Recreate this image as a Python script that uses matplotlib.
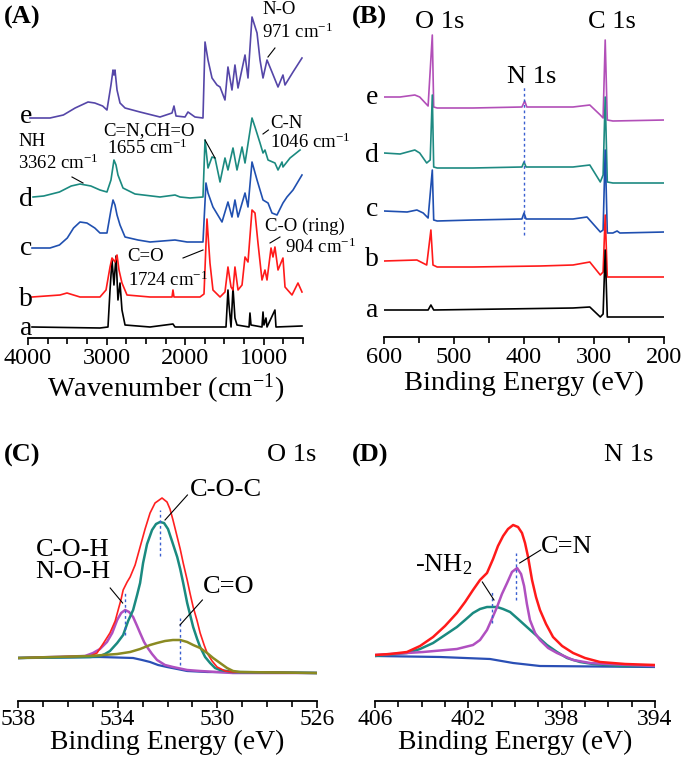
import numpy as np
import matplotlib
matplotlib.use("Agg")
from matplotlib import pyplot as plt
from matplotlib.ticker import MultipleLocator

plt.rcParams['font.family'] = ['Liberation Serif', 'DejaVu Serif']
plt.rcParams['mathtext.default'] = 'regular'

# ---------- (A) FTIR, wavenumber vs intensity (offset traces a..e) ----------
ftir_labels = ['a', 'b', 'c', 'd', 'e']
ftir_colors = ['#000000', '#ff1a1a', '#2050b0', '#1b8a80', '#5546a8']

ftir_a_wn = [3949, 3084, 2982, 2956, 2931, 2906, 2880, 2855, 2829, 2804, 2765, 2447, 2155, 2129,
             1811, 1480, 1455, 1442, 1416, 1391, 1366, 1340, 1187, 1175, 1162, 1022, 1009, 997,
             971, 958, 857, 844, 513]
ftir_a_int = [11, 10, 11, 48, 78, 53, 82, 38, 55, 28, 13, 11, 14, 11,
              11, 11, 48, 33, 11, 50, 20, 13, 11, 25, 13, 11, 26, 13,
              20, 11, 28, 11, 12]

ftir_b_wn = [3949, 3593, 3504, 3338, 3084, 3007, 2956, 2931, 2893, 2867, 2842, 2804, 2740, 2447,
             2167, 2155, 2142, 1811, 1760, 1722, 1684, 1646, 1556, 1493, 1455, 1416, 1391, 1366,
             1327, 1276, 1238, 1200, 1149, 1111, 1073, 1022, 984, 958, 907, 882, 857, 818,
             755, 729, 640, 564, 513]
ftir_b_int = [41, 43, 45, 41, 41, 48, 71, 80, 76, 83, 68, 55, 43, 41,
              41, 48, 41, 41, 44, 119, 75, 48, 41, 46, 71, 51, 48, 71,
              48, 53, 81, 76, 128, 125, 95, 58, 68, 58, 90, 81, 91, 68,
              80, 51, 43, 55, 46]

ftir_c_wn = [3949, 3720, 3600, 3500, 3420, 3338, 3250, 3150, 3084, 2995, 2944, 2918, 2893, 2867,
             2829, 2765, 2600, 2447, 2129, 1976, 1773, 1735, 1709, 1646, 1531, 1455, 1404, 1366,
             1327, 1238, 1200, 1149, 1085, 1009, 945, 895, 831, 755, 704, 627, 513]
ftir_c_int = [90, 90, 93, 100, 110, 116, 115, 110, 105, 105, 128, 138, 133, 123,
              113, 101, 98, 96, 98, 96, 96, 155, 145, 131, 116, 136, 121, 138,
              121, 145, 131, 176, 158, 138, 135, 125, 123, 135, 141, 148, 163]

ftir_d_wn = [3936, 3800, 3600, 3450, 3338, 3200, 3084, 2995, 2944, 2906, 2880, 2855, 2791, 2638,
             2320, 2129, 2065, 1938, 1773, 1747, 1709, 1658, 1620, 1556, 1493, 1455, 1391, 1340,
             1276, 1238, 1149, 1111, 1047, 1009, 984, 945, 857, 818, 767, 755, 665, 538]
ftir_d_int = [141, 142, 146, 152, 154, 152, 148, 146, 158, 178, 173, 163, 150, 144,
              141, 143, 141, 140, 141, 198, 170, 181, 180, 156, 180, 168, 190, 168,
              191, 175, 220, 211, 195, 185, 188, 178, 175, 168, 176, 171, 180, 188]

ftir_e_wn = [3975, 3720, 3550, 3400, 3236, 3150, 3050, 2995, 2944, 2918, 2906, 2893, 2867, 2829,
             2765, 2575, 2320, 2167, 2142, 2116, 2002, 1964, 1875, 1773, 1747, 1709, 1658, 1595,
             1556, 1493, 1455, 1404, 1366, 1327, 1238, 1200, 1149, 1085, 1047, 1009, 958, 895,
             818, 755, 729, 627, 513]
ftir_e_int = [220, 220, 223, 230, 236, 235, 232, 228, 253, 268, 263, 268, 248, 235,
              230, 226, 221, 225, 232, 222, 221, 226, 221, 220, 296, 278, 260, 253,
              251, 238, 271, 248, 273, 250, 283, 260, 321, 305, 278, 260, 278, 266,
              251, 263, 253, 266, 280]

ftir_wn = [ftir_a_wn, ftir_b_wn, ftir_c_wn, ftir_d_wn, ftir_e_wn]
ftir_int = [ftir_a_int, ftir_b_int, ftir_c_int, ftir_d_int, ftir_e_int]
ftir_label_y = [3, 32, 83, 132, 215]

# ---------- (B) XPS survey ----------
xps_labels = ['a', 'b', 'c', 'd', 'e']
xps_colors = ['#000000', '#ff1a1a', '#1f4fb0', '#1e8a82', '#b24fb8']

xps_a_be = [600, 537, 533, 529, 330, 306, 291, 287, 284, 281, 199]
xps_a_int = [27, 27, 32, 27, 29, 30, 20, 23, 87, 20, 20]

xps_b_be = [600, 553, 539, 533, 530, 524, 473, 377, 330, 306, 291, 287, 284, 281, 199]
xps_b_int = [76, 77, 72, 107, 72, 70, 70, 71, 72, 75, 62, 65, 122, 60, 60]

xps_c_be = [600, 567, 553, 544, 537, 531, 529, 524, 473, 403, 400, 397, 330, 310, 291, 287,
            284, 281, 273, 267, 263, 199]
xps_c_int = [126, 125, 127, 124, 119, 167, 117, 116, 117, 118, 124, 118, 118, 120, 105, 107,
             187, 104, 104, 106, 104, 105]

xps_d_be = [600, 577, 556, 549, 539, 534, 531, 529, 524, 473, 403, 400, 397, 330, 306, 291,
            287, 284, 281, 273, 199]
xps_d_int = [184, 183, 187, 184, 174, 177, 242, 170, 169, 169, 170, 175, 170, 170, 172, 155,
             162, 240, 155, 154, 154]

xps_e_be = [600, 577, 556, 549, 537, 531, 529, 524, 473, 403, 399, 396, 330, 306, 291, 287,
            284, 281, 273, 199]
xps_e_int = [240, 240, 242, 240, 231, 302, 230, 229, 229, 230, 236, 230, 230, 232, 222, 219,
             297, 217, 216, 217]

xps_be = [xps_a_be, xps_b_be, xps_c_be, xps_d_be, xps_e_be]
xps_int = [xps_a_int, xps_b_int, xps_c_int, xps_d_int, xps_e_int]
xps_label_y = [20, 71, 121, 175, 233]

# ---------- (C) O 1s fit ----------
o1s_env_be = [538.0, 535.1, 534.83, 534.59, 534.31, 534.10, 533.98, 533.86, 533.78, 533.62, 533.50,
              533.30, 533.10, 532.90, 532.70, 532.50, 532.22, 532.02, 531.90, 531.78, 531.61,
              531.49, 531.37, 531.21, 531.09, 530.97, 530.81, 530.69, 530.53, 530.41, 530.21,
              530.01, 529.69, 529.37, 526.0]
o1s_env_int = [43, 45, 48, 57, 68, 80, 91, 102, 111, 119, 124,
               136, 154, 172, 188, 198, 203, 199, 192, 181, 164,
               152, 138, 121, 107, 94, 80, 68, 56, 48, 40,
               34, 30, 29, 28]

o1s_coc_be = [538.0, 535.1, 534.71, 534.51, 534.31, 534.02, 533.78, 533.58, 533.38, 533.22, 533.10,
              532.98, 532.82, 532.62, 532.46, 532.30, 532.14, 531.98, 531.82, 531.61, 531.49,
              531.37, 531.21, 531.09, 530.97, 530.81, 530.69, 530.49, 530.29, 530.09, 529.89,
              529.37, 526.0]
o1s_coc_int = [43, 44, 45, 47, 50, 58, 66, 80, 91, 106, 118,
               138, 157, 171, 177, 179, 178, 172, 160, 144, 132,
               118, 98, 86, 74, 62, 54, 44, 38, 33, 31,
               29, 28]

o1s_coh_be = [538.0, 535.31, 534.99, 534.71, 534.43, 534.22, 534.02, 533.86, 533.70, 533.54, 533.38,
              533.22, 533.10, 532.94, 532.82, 532.62, 532.42, 532.10, 531.78, 531.21, 530.69,
              529.37, 526.0]
o1s_coh_int = [43, 45, 48, 52, 59, 68, 81, 88, 91, 89, 84,
               75, 68, 59, 54, 47, 41, 36, 34, 31, 30,
               28, 28]

o1s_co_be = [538.0, 535.11, 534.02, 533.50, 533.10, 532.70, 532.42, 532.10, 531.78, 531.49, 531.21,
             530.97, 530.69, 530.41, 530.17, 529.89, 529.61, 529.37, 529.08, 526.0]
o1s_co_int = [43, 45, 47, 49, 52, 56, 58, 60, 61, 61, 59,
              56, 53, 48, 43, 38, 33, 30, 29, 28]

o1s_bg_be = [538.0, 534.71, 533.38, 533.02, 532.70, 532.38, 532.02, 531.61, 531.21, 530.41, 526.0]
o1s_bg_int = [43, 44, 43, 41, 39, 36, 34, 32, 30, 29, 28]

# ---------- (D) N 1s fit ----------
n1s_env_be = [406.0, 405.36, 404.63, 404.07, 403.51, 403.00, 402.49, 402.14, 401.80, 401.50, 401.20,
              400.94, 400.73, 400.51, 400.30, 400.08, 399.87, 399.70, 399.57, 399.44, 399.27,
              399.10, 398.93, 398.67, 398.37, 397.98, 397.51, 397.00, 396.36, 395.28, 394.0]
n1s_env_int = [46, 47, 49, 55, 64, 75, 88, 99, 111, 121, 128,
               142, 155, 165, 172, 176, 174, 168, 158, 144, 121,
               104, 91, 77, 64, 55, 48, 43, 39, 37, 36]

n1s_cn_be = [406.0, 403.94, 402.49, 401.80, 401.50, 401.20, 400.99, 400.77, 400.56, 400.34, 400.13,
             399.91, 399.74, 399.61, 399.49, 399.36, 399.14, 398.93, 398.58, 398.20, 397.51,
             396.78, 396.06, 394.0]
n1s_cn_int = [46, 49, 52, 56, 61, 71, 82, 94, 107, 118, 129,
              133, 127, 115, 97, 81, 68, 61, 53, 48, 41,
              38, 37, 35]

n1s_nh2_be = [406.0, 404.63, 404.07, 403.51, 403.00, 402.49, 402.14, 401.80, 401.50, 401.20, 400.77,
              400.51, 400.21, 399.87, 399.49, 399.06, 398.63, 398.20, 397.77, 397.21, 396.66,
              395.50, 394.0]
n1s_nh2_int = [45, 48, 52, 58, 66, 74, 81, 88, 92, 94, 94,
               92, 89, 82, 74, 65, 56, 49, 43, 39, 37,
               35, 35]

n1s_bg_be = [406.0, 403.21, 401.07, 400.08, 398.93, 394.0]
n1s_bg_int = [45, 44, 42, 38, 35, 34]

fig = plt.figure(figsize=(6.85, 7.62), dpi=100)
W, H = 685.0, 762.0


def make_axes(x0, x1, y_top, y_axis, tsize=17.5, tpad=2):
    ax = fig.add_axes([x0 / W, 1 - y_axis / H, (x1 - x0) / W, (y_axis - y_top) / H])
    for s in ['left', 'right', 'top']:
        ax.spines[s].set_visible(False)
    ax.spines['bottom'].set_linewidth(1.3)
    ax.set_yticks([])
    ax.tick_params(axis='x', which='major', direction='out', length=5, width=1.2,
                   labelsize=tsize, pad=tpad)
    ax.tick_params(axis='x', which='minor', direction='out', length=4, width=1.2)
    ax.patch.set_alpha(0)
    return ax


ann_kw = dict(fontsize=13.5)
lead_kw = dict(color='black', lw=0.8)
dash_kw = dict(color='#3a5fd0', lw=1.0, ls=(0, (2, 2)))

# (A)
axA = make_axes(28, 303, 0, 338)
for wn, it, c in zip(ftir_wn, ftir_int, ftir_colors):
    axA.plot(wn, it, color=c, lw=1.2)
axA.set_xlim(4000, 500)
axA.set_ylim(0, 338)
axA.xaxis.set_major_locator(MultipleLocator(1000))
axA.xaxis.set_minor_locator(MultipleLocator(250))
axA.set_xlabel('Wavenumber (cm$^{-1}$)', fontsize=20.5, labelpad=2)
for lab, y in zip(ftir_labels, ftir_label_y):
    axA.text(3940, y, lab, fontsize=20, ha='right', va='baseline')
axA.text(1022, 329, 'N-O', va='center', **ann_kw)
axA.text(1022, 306, '971 cm$^{-1}$', va='center', **ann_kw)
axA.plot([857, 946], [290, 281], **lead_kw)
axA.text(920, 214, 'C-N', va='center', **ann_kw)
axA.text(920, 196, '1046 cm$^{-1}$', va='center', **ann_kw)
axA.plot([940, 1009], [208, 204], **lead_kw)
axA.text(3046, 207, 'C=N,CH=O', va='center', **ann_kw)
axA.text(2995, 190, '1655 cm$^{-1}$', va='center', **ann_kw)
axA.plot([1747, 1620], [198, 180], **lead_kw)
axA.text(4127, 197, 'NH', va='center', **ann_kw)
axA.text(4127, 175, '3362 cm$^{-1}$', va='center', **ann_kw)
axA.plot([3440, 3300], [161, 155], **lead_kw)
axA.text(2740, 81, 'C=O', va='center', **ann_kw)
axA.text(2727, 58, '1724 cm$^{-1}$', va='center', **ann_kw)
axA.plot([2027, 1773], [80, 88], **lead_kw)
axA.text(984, 112, 'C-O (ring)', va='center', **ann_kw)
axA.text(729, 91, '904 cm$^{-1}$', va='center', **ann_kw)
axA.plot([920, 793], [95, 101], **lead_kw)

# (B)
axB = make_axes(384, 664, 0, 337)
for be, it, c in reversed(list(zip(xps_be, xps_int, xps_colors))):
    axB.plot(be, it, color=c, lw=1.2)
axB.set_xlim(600, 200)
axB.set_ylim(0, 337)
axB.xaxis.set_major_locator(MultipleLocator(100))
axB.xaxis.set_minor_locator(MultipleLocator(50))
axB.set_xlabel('Binding Energy (eV)', fontsize=20.5, labelpad=2)
for lab, y in zip(xps_labels, xps_label_y):
    axB.text(608, y, lab, fontsize=20, ha='right', va='baseline')
axB.text(556, 315, 'O 1s', fontsize=19, va='center')
axB.text(309, 315, 'C 1s', fontsize=19, va='center')
axB.text(424, 260, 'N 1s', fontsize=19, va='center')
axB.plot([400, 400], [102, 252], **dash_kw)

# (C)
axC = make_axes(18, 317, 440, 701, tsize=17, tpad=1)
axC.plot(o1s_bg_be, o1s_bg_int, color='#2a4fb5', lw=1.6)
axC.plot(o1s_coh_be, o1s_coh_int, color='#b050c0', lw=1.8)
axC.plot(o1s_coc_be, o1s_coc_int, color='#1a8a80', lw=1.8)
axC.plot(o1s_env_be, o1s_env_int, color='#ff2020', lw=1.2)
axC.plot(o1s_co_be, o1s_co_int, color='#8a8a22', lw=1.8)
axC.plot([533.7, 533.7], [66, 108], **dash_kw)
axC.plot([532.3, 532.3], [145, 191], **dash_kw)
axC.plot([531.5, 531.5], [36, 83], **dash_kw)
axC.set_xlim(538, 526)
axC.set_ylim(0, 261)
axC.set_xticks([538, 534, 530, 526])
axC.xaxis.set_minor_locator(MultipleLocator(1))
axC.set_xlabel('Binding Energy (eV)', fontsize=20, labelpad=0)
axC.text(528.0, 246, 'O 1s', fontsize=19, va='center')
axC.text(531.1, 211, 'C-O-C', fontsize=19, va='center')
axC.plot([531.2, 532.1], [206, 181], **lead_kw)
axC.text(537.3, 151, 'C-O-H', fontsize=19, va='center')
axC.text(537.3, 129, 'N-O-H', fontsize=19, va='center')
axC.plot([534.3, 533.8], [113, 98], **lead_kw)
axC.text(530.6, 114, 'C=O', fontsize=19, va='center')
axC.plot([530.6, 531.5], [101, 76], **lead_kw)

# (D)
axD = make_axes(375, 655, 440, 701, tsize=17, tpad=1)
axD.plot(n1s_bg_be, n1s_bg_int, color='#2a4fb5', lw=1.6)
axD.plot(n1s_nh2_be, n1s_nh2_int, color='#1a8a80', lw=1.8)
axD.plot(n1s_cn_be, n1s_cn_int, color='#b050c0', lw=1.8)
axD.plot(n1s_env_be, n1s_env_int, color='#ff1a1a', lw=1.8)
axD.plot([401.0, 401.0], [78, 111], **dash_kw)
axD.plot([399.96, 399.96], [101, 148], **dash_kw)
axD.set_xlim(406, 394)
axD.set_ylim(0, 261)
axD.set_xticks([406, 402, 398, 394])
axD.xaxis.set_minor_locator(MultipleLocator(1))
axD.set_xlabel('Binding Energy (eV)', fontsize=20, labelpad=0)
axD.text(396.2, 246, 'N 1s', fontsize=19, va='center')
axD.text(398.9, 154, 'C=N', fontsize=19, va='center')
axD.plot([398.9, 399.8], [151, 138], **lead_kw)
axD.text(404.3, 136, '-NH$_2$', fontsize=19, va='center')
axD.plot([401.4, 400.9], [119, 101], **lead_kw)

for lab, x, y in [('(A)', 4, 17), ('(B)', 352, 17), ('(C)', 4, 455), ('(D)', 352, 455)]:
    fig.text(x / W, 1 - y / H, lab, fontsize=19, fontweight='bold', va='center')

fig.savefig('out.png', dpi=100)
